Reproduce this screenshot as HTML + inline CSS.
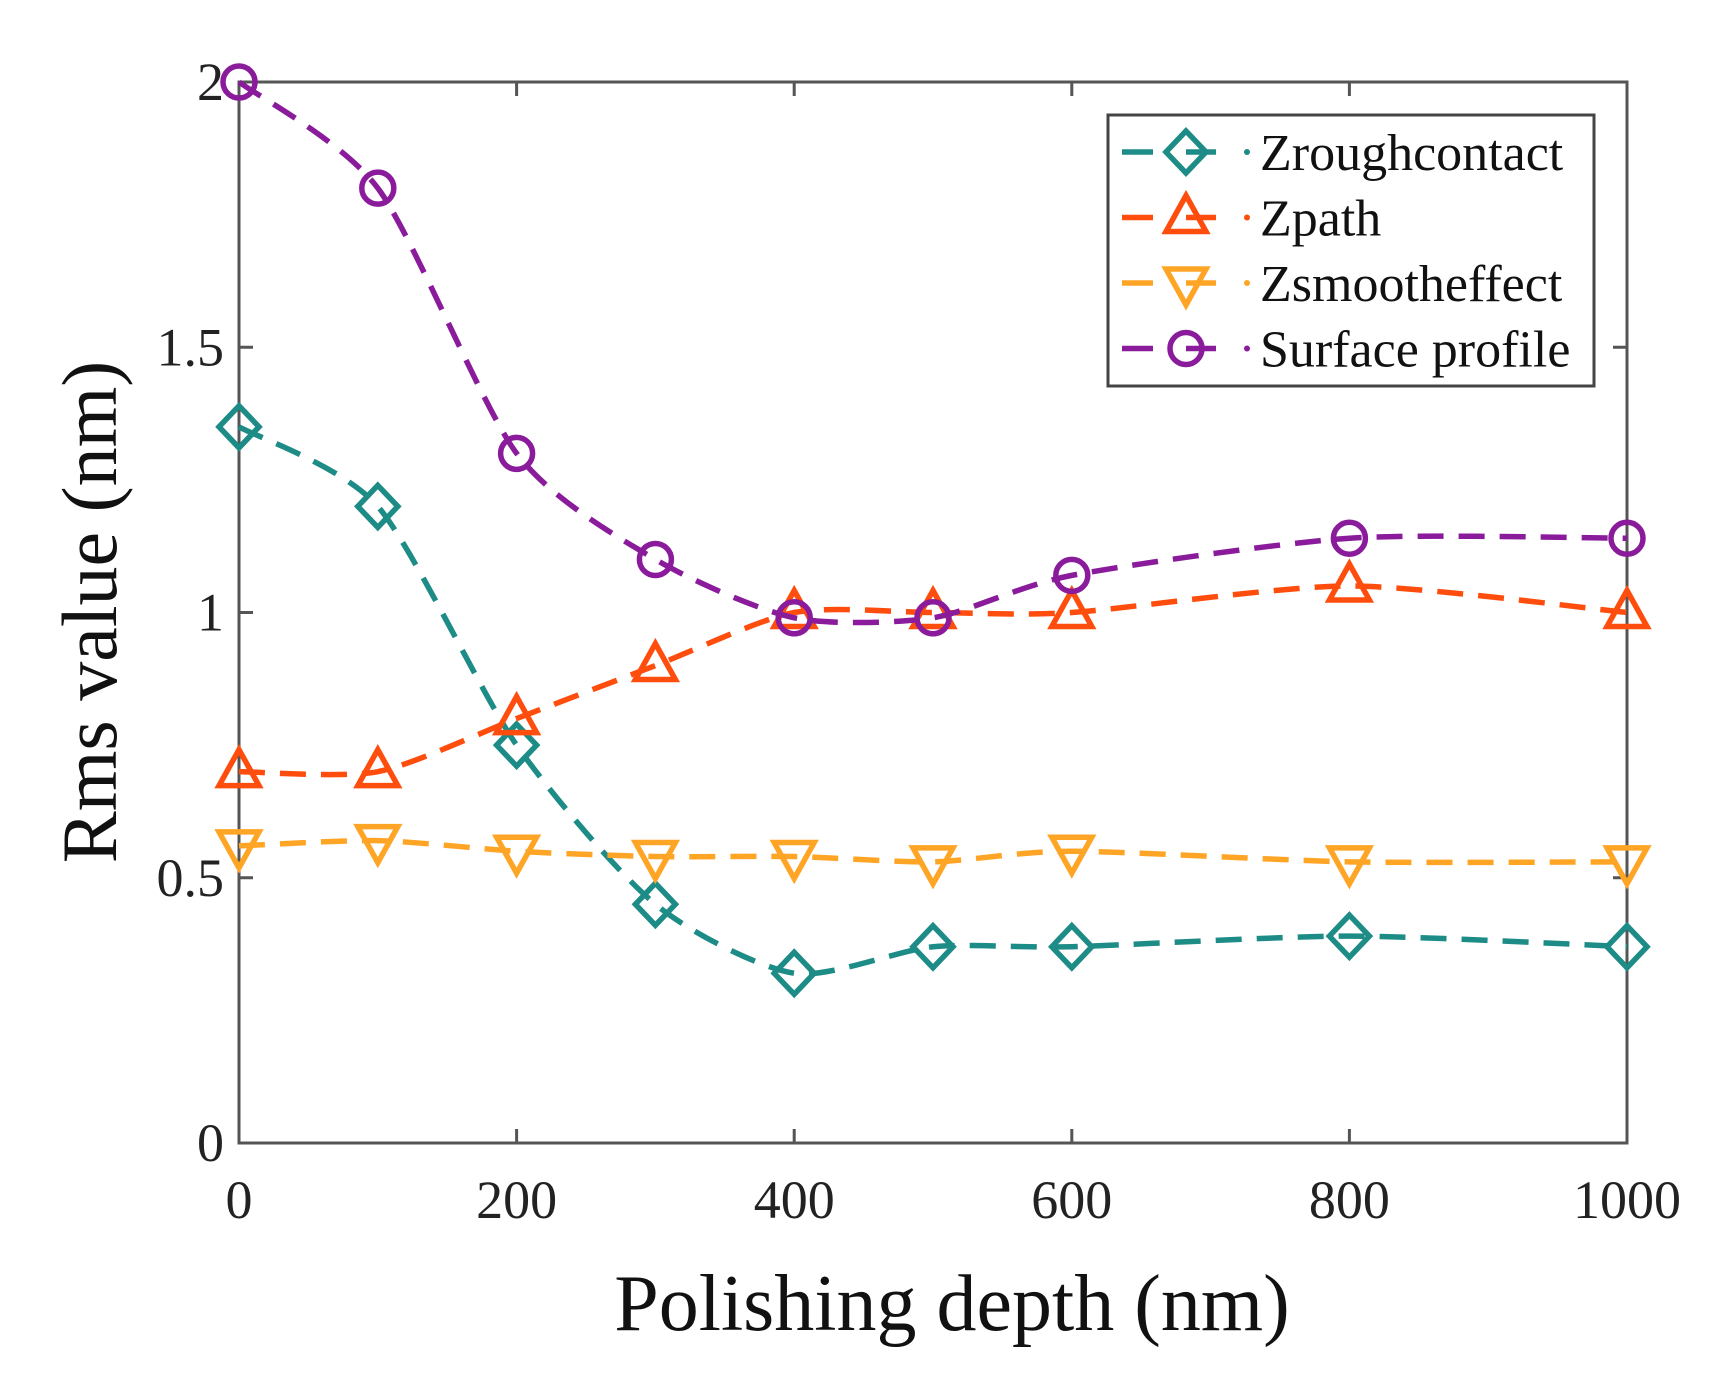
<!DOCTYPE html>
<html><head><meta charset="utf-8"><style>
body{margin:0;background:#fff;}
svg{display:block;font-family:"Liberation Serif",serif;}
</style></head><body>
<svg id="chart" width="1724" height="1393" viewBox="0 0 1724 1393" xmlns="http://www.w3.org/2000/svg">
<rect width="1724" height="1393" fill="#fff"/>
<g id="axes"></g>
<g id="series"></g>
<text x="952" y="1330" font-size="80" text-anchor="middle" fill="#111">Polishing depth (nm)</text>
<text transform="translate(116,612) rotate(-90)" font-size="78" text-anchor="middle" fill="#111">Rms value (nm)</text>
<g id="legend">
<rect x="1108" y="115" width="486" height="271" fill="#fff" stroke="#444" stroke-width="3"/>
</g>
</svg>
<script>
const xValues=[0,100,200,300,400,500,600,800,1000];
const zRough=[1.35,1.2,0.75,0.45,0.32,0.37,0.37,0.39,0.37];
const zPath=[0.7,0.7,0.8,0.9,1.0,1.0,1.0,1.05,1.0];
const zSmooth=[0.56,0.57,0.55,0.54,0.54,0.53,0.55,0.53,0.53];
const surface=[2,1.8,1.3,1.1,0.99,0.99,1.07,1.14,1.14];
const xTicks=[0,200,400,600,800,1000];
const yTicks=[0,0.5,1,1.5,2];
const yTickLabels=["0","0.5","1","1.5","2"];
const seriesNames=["Zroughcontact","Zpath","Zsmootheffect","Surface profile"];

const L=239,R=1627,T=82,B=1143;
const sx=v=>L+(v-0)/1000*(R-L);
const sy=v=>B-(v/2)*(B-T);
const NS="http://www.w3.org/2000/svg";
function mk(tag,attrs,parent){const e=document.createElementNS(NS,tag);for(const k in attrs)e.setAttribute(k,attrs[k]);parent.appendChild(e);return e;}
const axes=document.getElementById('axes');
const box=mk('rect',{x:L,y:T,width:R-L,height:B-T,fill:'none',stroke:'#555','stroke-width':3},axes);


xTicks.forEach(v=>{
  const x=sx(v);
  mk('line',{x1:x,y1:B,x2:x,y2:B-14,stroke:'#555','stroke-width':3},axes);
  mk('line',{x1:x,y1:T,x2:x,y2:T+14,stroke:'#555','stroke-width':3},axes);
  const t=mk('text',{x:x,y:B+75,'font-size':54,'text-anchor':'middle',fill:'#222'},axes);
  t.textContent=String(v);
  
  
});
yTicks.forEach((v,i)=>{
  const y=sy(v);
  mk('line',{x1:L,y1:y,x2:L+14,y2:y,stroke:'#555','stroke-width':3},axes);
  mk('line',{x1:R,y1:y,x2:R-14,y2:y,stroke:'#555','stroke-width':3},axes);
  const t=mk('text',{x:L-15,y:y+18,'font-size':54,'text-anchor':'end',fill:'#222'},axes);
  t.textContent=yTickLabels[i];
  
  
});
const colors=["#1e8c86","#ff4d0d","#ffa526","#8a1c9c"];
const data=[zRough,zPath,zSmooth,surface];
const markers=["diamond","up","down","circle"];
function marker(type,x,y,c,parent){
  const a={fill:'none',stroke:c,'stroke-width':5.5};
  if(type==='diamond'){a.points=`${x},${y-21} ${x+20},${y} ${x},${y+21} ${x-20},${y}`;return mk('polygon',a,parent);}
  if(type==='up'){a.points=`${x},${y-22} ${x+20},${y+14} ${x-20},${y+14}`;return mk('polygon',a,parent);}
  if(type==='down'){a.points=`${x},${y+22} ${x+20},${y-14} ${x-20},${y-14}`;return mk('polygon',a,parent);}
  a.cx=x;a.cy=y;a.r=16;return mk('circle',a,parent);
}
const sg=document.getElementById('series');
const names=["zroughcontact","zpath","zsmootheffect","surface-profile"];
data.forEach((arr,si)=>{
  const g=mk('g',{},sg);
  
  
  const pts=arr.map((v,i)=>[sx(xValues[i]),sy(v)]);
  let d=`M${pts[0][0]},${pts[0][1]}`;
  for(let i=0;i<pts.length-1;i++){
    const p0=pts[Math.max(i-1,0)],p1=pts[i],p2=pts[i+1],p3=pts[Math.min(i+2,pts.length-1)];
    const c1=[p1[0]+(p2[0]-p0[0])/8,p1[1]+(p2[1]-p0[1])/8];
    const c2=[p2[0]-(p3[0]-p1[0])/8,p2[1]-(p3[1]-p1[1])/8];
    d+=` C${c1[0]},${c1[1]} ${c2[0]},${c2[1]} ${p2[0]},${p2[1]}`;
  }
  const line=mk('path',{d:d,fill:'none',stroke:colors[si],'stroke-width':5.5,'stroke-dasharray':'26 15'},g);
  
  
  pts.forEach(p=>{
    const m=marker(markers[si],p[0],p[1],colors[si],g);
    
    
  });
});
const lg=document.getElementById('legend');
seriesNames.forEach((n,i)=>{
  const y=152+i*65.5;
  const e=mk('g',{},lg);
  
  
  mk('line',{x1:1122,y1:y,x2:1153,y2:y,stroke:colors[i],'stroke-width':5.5},e);
  mk('line',{x1:1186,y1:y,x2:1216,y2:y,stroke:colors[i],'stroke-width':5.5},e);
  marker(markers[i],1186,y,colors[i],e);
  mk('circle',{cx:1247,cy:y,r:3,fill:colors[i]},e);
  const t=mk('text',{x:1260,y:y+18,'font-size':52,fill:'#111',textLength:n==='Zpath'?null:null},e);
  t.textContent=n;
});
</script>
</body></html>
